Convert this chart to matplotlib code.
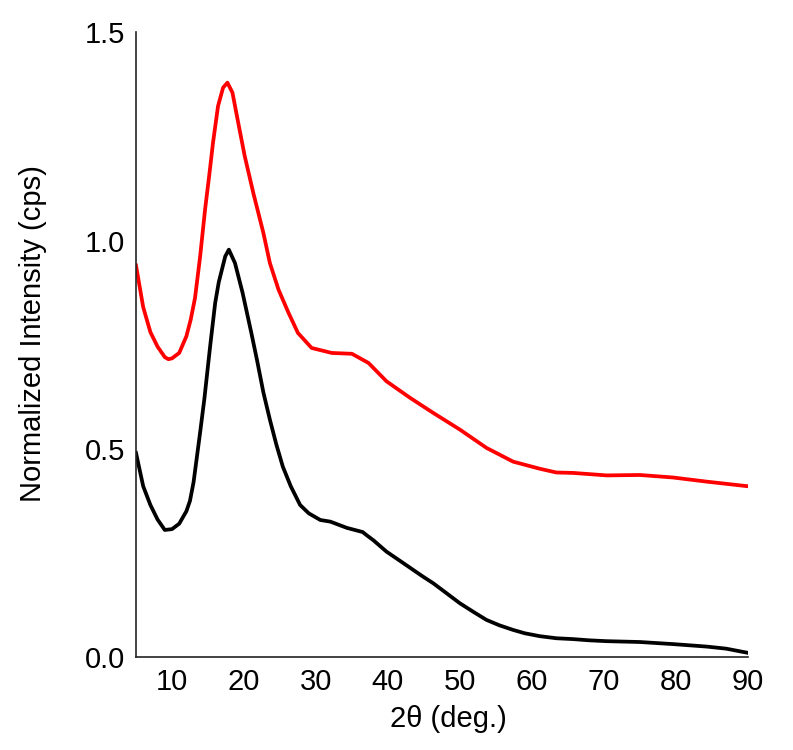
# XRD patterns, two samples, normalized intensity vs 2θ
import matplotlib
matplotlib.use("Agg")
import matplotlib.pyplot as plt

plt.rcParams["font.family"] = ["Liberation Sans", "DejaVu Sans"]

# values
black_x = [5, 6, 7, 8, 9, 10, 11, 12, 12.5, 13, 13.9, 14.5, 15.3, 16, 16.5,
           17.4, 17.9, 18.75, 19.8, 21, 21.8, 22.7, 23.6, 24.5, 25.4, 26.5,
           27.8, 29, 30.6, 32, 34.3, 36.5, 37, 38, 39.8, 41.5, 43.1, 44.7, 46.3,
           48, 50, 52, 53.7, 55.5, 57.4, 59, 61.1, 63.4, 65.7, 68, 70.4, 75,
           79.6, 84.3, 87, 90]
black_y = [0.49, 0.41, 0.365, 0.33, 0.305, 0.307, 0.32, 0.35, 0.375, 0.42, 0.538,
           0.62, 0.746, 0.85, 0.9, 0.962, 0.978, 0.946, 0.875, 0.78, 0.714,
           0.635, 0.57, 0.51, 0.457, 0.41, 0.365, 0.345, 0.329, 0.325, 0.31,
           0.30, 0.293, 0.28, 0.253, 0.233, 0.214, 0.195, 0.177, 0.155, 0.129,
           0.107, 0.089, 0.076, 0.065, 0.057, 0.05, 0.045, 0.043, 0.04, 0.038,
           0.036, 0.031, 0.025, 0.02, 0.01]

red_x = [5, 6, 7, 8, 9, 9.5, 10, 11, 12, 12.6, 13.2, 13.9, 14.6, 15.2, 15.7,
         16.4, 17.1, 17.7, 18.4, 19.2, 20.1, 21.3, 22.7, 23.6, 24.8, 26.2, 27.5,
         29.4, 32.2, 35, 37.3, 39.8, 43.1, 46.3, 50, 53.7, 57.4, 61.1, 63.4,
         65.7, 70.4, 75, 79.6, 84.3, 90]
red_y = [0.94, 0.84, 0.78, 0.745, 0.72, 0.715, 0.717, 0.73, 0.77, 0.81, 0.862,
         0.96, 1.075, 1.16, 1.235, 1.323, 1.367, 1.379, 1.355, 1.283, 1.203,
         1.114, 1.018, 0.946, 0.882, 0.826, 0.778, 0.742, 0.73, 0.728, 0.706,
         0.662, 0.622, 0.586, 0.546, 0.502, 0.469, 0.452, 0.443, 0.442, 0.436,
         0.437, 0.431, 0.421, 0.41]

x_ticks = [10, 20, 30, 40, 50, 60, 70, 80, 90]
y_ticks = [0.0, 0.5, 1.0, 1.5]

fig = plt.figure(figsize=(7.93, 7.5), dpi=100)
ax = fig.add_axes([0.1715, 0.124, 0.7715, 0.833])

ax.plot(black_x, black_y, color="black", lw=2.7)
ax.plot(red_x, red_y, color="#ff0000", lw=2.7)

ax.set_xlim(5, 90)
ax.set_ylim(0, 1.5)
ax.set_xticks(x_ticks)
ax.set_yticks(y_ticks)
ax.set_yticklabels([f"{v:.1f}" for v in y_ticks])
ax.tick_params(length=0, pad=8, labelsize=21)

for s in ("top", "right"):
    ax.spines[s].set_visible(False)
for s in ("left", "bottom"):
    ax.spines[s].set_linewidth(1.2)
    ax.spines[s].set_color("#222222")

ax.set_xlabel("2θ (deg.)", fontsize=21)
ax.set_ylabel("Normalized Intensity (cps)", fontsize=21)
ax.xaxis.label.set_va("center")
ax.yaxis.label.set_va("center")
ax.xaxis.set_label_coords(0.51, -0.10)
ax.yaxis.set_label_coords(-0.168, 0.518)

fig.savefig("out.png", dpi=100)
